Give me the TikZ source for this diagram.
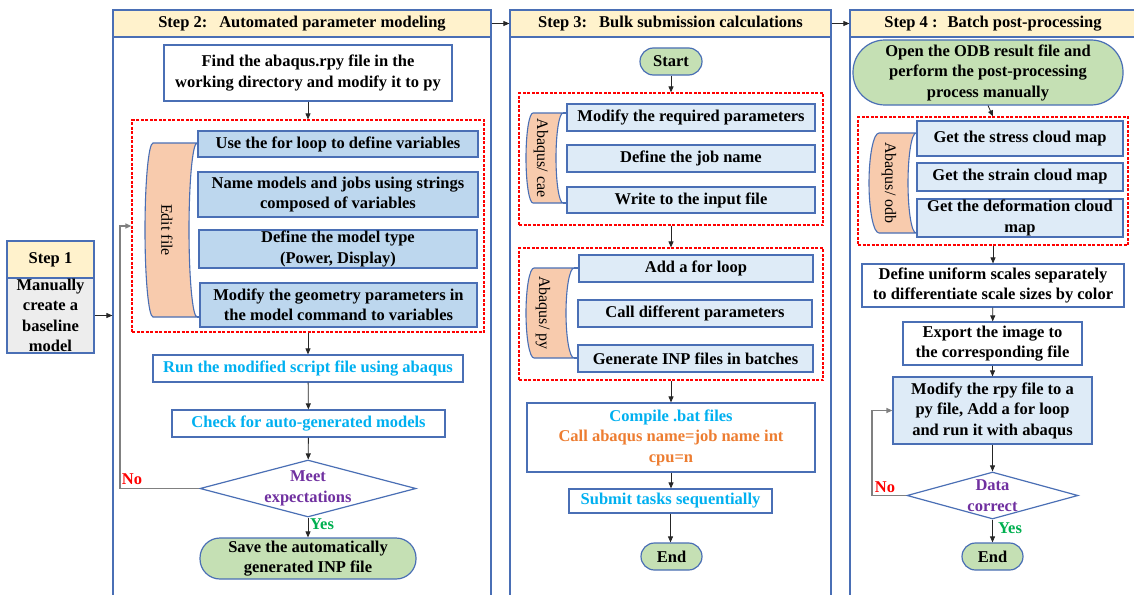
\documentclass[tikz,border=0pt]{standalone}
\usepackage{fontspec}
\setmainfont{Liberation Serif}
\usetikzlibrary{shapes.geometric,arrows.meta}
\definecolor{pblue}{HTML}{4A6FB5}
\definecolor{hdrc}{HTML}{FFF2CC}
\definecolor{dkb}{HTML}{BDD7EE}
\definecolor{ltb}{HTML}{DEEBF7}
\definecolor{grn}{HTML}{C5E0B4}
\definecolor{peach}{HTML}{F8CBAD}
\definecolor{gryc}{HTML}{EDEDED}
\definecolor{cyantx}{HTML}{00B0F0}
\definecolor{orgtx}{HTML}{ED7D31}
\definecolor{purtx}{HTML}{7030A0}
\definecolor{yestx}{HTML}{00B050}
\definecolor{linec}{HTML}{262626}
\definecolor{loopc}{HTML}{808080}
\begin{document}
\begin{tikzpicture}[x=1pt,y=-1pt,
  every node/.style={font=\fontsize{16.5}{20.5}\selectfont\bfseries, align=center, inner sep=0pt},
  sz/.style 2 args={minimum width=#1pt, minimum height=#2pt},
  panel/.style={draw=pblue, line width=1.2pt, rectangle, fill=white},
  hdr/.style={draw=pblue, line width=1.2pt, rectangle, fill=hdrc},
  wbox/.style={draw=pblue, line width=1.2pt, rectangle, fill=white},
  dbox/.style={draw=pblue, line width=1.2pt, rectangle, fill=dkb},
  lbox/.style={draw=pblue, line width=1.2pt, rectangle, fill=ltb},
  gbox/.style={draw=pblue, line width=1.2pt, rectangle, fill=gryc},
  term/.style={draw=pblue, line width=1.2pt, rectangle, fill=grn, rounded corners=#1pt},
  dgroup/.style={draw=red, line width=1.2pt, dash pattern=on 3pt off 1.5pt, rectangle},
  dia/.style={draw=pblue, line width=1.2pt, diamond, fill=white},
  scrl/.style={draw=pblue, line width=1.1pt, fill=peach},
  scrtx/.style={font=\fontsize{16}{18}\selectfont, rotate=-90},
  arr/.style={draw=linec, line width=0.8pt, -{Triangle[length=6pt,width=5pt]}},
  loopline/.style={draw=loopc, line width=1.2pt, -{Triangle[length=6pt,width=5pt]}},
  ctx/.style={text=cyantx},
  ptx/.style={text=purtx},
  yes/.style={text=yestx},
  nop/.style={text=red}
]
\useasboundingbox (0,0) rectangle (1134,594);
\clip (0,0) rectangle (1134,594);

% ---------------- Step 1 ----------------
\node[hdr, sz={87}{37}] (s1h) at (50.5,259.5) {Step 1};
\node[gbox, sz={87}{75}] (s1b) at (50.5,315.5) {\fontsize{16.5}{19.5}\selectfont Manually\\create a\\baseline\\model};

% ---------------- Step 2 ----------------
\node[panel, sz={378}{600}] (p2) at (302,310) {};
\node[hdr, sz={378}{27}] (p2h) at (302,23.5) {Step 2:\hspace{12pt}Automated parameter modeling};
\node[wbox, sz={288}{56}] (find) at (308,73) {Find the abaqus.rpy file in the\\working directory and modify it to py};
\node[dgroup, sz={352}{212}] (dash2) at (308,226) {};
\node[dbox, sz={280}{26}] (b1) at (338,144) {Use the for loop to define variables};
\node[dbox, sz={280}{45}] (b2) at (338,194.5) {Name models and jobs using strings\\composed of variables};
\node[dbox, sz={278}{38}] (b3) at (338,249) {Define the model type\\(Power, Display)};
\node[dbox, sz={277}{44}] (b4) at (338.5,305) {Modify the geometry parameters in\\the model command to variables};
\draw[scrl] (153,143) -- (197,143) arc[start angle=90, end angle=270, x radius=8pt, y radius=87pt]
  -- (153,317) arc[start angle=270, end angle=90, x radius=8pt, y radius=87pt] -- cycle;
\node[scrtx] (edit) at (167,230) {Edit file};
\draw[draw=pblue, line width=1.1pt] (197,143) -- (b1.west |- 0,143);
\draw[draw=pblue, line width=1.1pt] (197,317) -- (b4.west |- 0,317);
\node[wbox, sz={310}{27}, ctx] (run) at (308,368.5) {Run the modified script file using abaqus};
\node[wbox, sz={273}{27}, ctx] (check) at (308.5,423.5) {Check for auto-generated models};
\node[dia, sz={216}{57}, label={[ptx, align=center]center:{Meet\\expectations}}] (meet) at (308,488.5) {};
\node[term=20, sz={216}{41}] (save) at (308,558.5) {Save the automatically\\generated INP file};
\node[yes] (yes2) at (322,524) {Yes};
\node[nop] (no2) at (132,479) {No};
\coordinate (nl2) at (120,488.5);

\draw[arr] (s1b.east) -- (s1b.east -| p2.west);
\draw[arr] (find) -- (dash2);
\draw[arr] (dash2) -- (run);
\draw[arr] (run) -- (check);
\draw[arr] (check) -- (meet);
\draw[arr] (meet) -- (save);
\draw[loopline] (meet.west) -- (nl2) |- (dash2.west);

% ---------------- Step 3 ----------------
\node[panel, sz={321}{600}] (p3) at (670.5,310) {};
\node[hdr, sz={321}{27}] (p3h) at (670.5,23.5) {Step 3:\hspace{12pt}Bulk submission calculations};
\node[term=13.5, sz={62}{27}] (start) at (671,61.5) {Start};
\node[dgroup, sz={304}{132}] (dash3a) at (671,159) {};
\node[lbox, sz={248}{27}] (c1) at (691,117.5) {Modify the required parameters};
\node[lbox, sz={248}{27}] (c2) at (691,158.5) {Define the job name};
\node[lbox, sz={248}{26}] (c3) at (691,200) {Write to the input file};
\draw[scrl] (533,113) -- (563,113) arc[start angle=90, end angle=270, x radius=7pt, y radius=45pt]
  -- (533,203) arc[start angle=270, end angle=90, x radius=7pt, y radius=45pt] -- cycle;
\node[scrtx] (cae) at (541,158) {Abaqus/ cae};
\draw[draw=pblue, line width=1.1pt] (563,113) -- (c1.west |- 0,113);
\draw[draw=pblue, line width=1.1pt] (563,203) -- (c3.west |- 0,203);
\node[dgroup, sz={304}{132}] (dash3b) at (671,314) {};
\node[lbox, sz={234}{27}] (d1) at (696,268.5) {Add a for loop};
\node[lbox, sz={234}{27}] (d2) at (695,313.5) {Call different parameters};
\node[lbox, sz={235}{27}] (d3) at (695.5,358.5) {Generate INP files in batches};
\draw[scrl] (534,268) -- (574,268) arc[start angle=90, end angle=270, x radius=8pt, y radius=45pt]
  -- (534,358) arc[start angle=270, end angle=90, x radius=8pt, y radius=45pt] -- cycle;
\node[scrtx] (py) at (543,313) {Abaqus/ py};
\draw[draw=pblue, line width=1.1pt] (574,268) -- (d1.west |- 0,268);
\draw[draw=pblue, line width=1.1pt] (574,358) -- (d3.west |- 0,358);
\node[wbox, sz={288}{69}] (comp) at (671,437.5) {{\color{cyantx}Compile .bat files}\\{\color{orgtx}Call abaqus name=job name int}\\{\color{orgtx}cpu=n}};
\node[wbox, sz={203}{24}, ctx] (submit) at (670.5,501) {Submit tasks sequentially};
\node[term=13.5, sz={61}{27}] (end3) at (671.5,556.5) {End};

\draw[arr] (p2h.east) -- (p3h.west);
\draw[arr] (start) -- (dash3a);
\draw[arr] (dash3a) -- (dash3b);
\draw[arr] (dash3b) -- (comp);
\draw[arr] (comp.south) -- (comp.south |- submit.north);
\draw[arr] (submit.south) -- (submit.south |- end3.north);

% ---------------- Step 4 ----------------
\node[panel, sz={286}{600}] (p4) at (993,310) {};
\node[hdr, sz={286}{27}] (p4h) at (993,23.5) {Step 4 :\hspace{10pt}Batch post-processing};
\node[term=32, sz={270}{65}] (odb) at (988,72.5) {Open the ODB result file and\\perform the post-processing\\process manually};
\node[dgroup, sz={270}{128}] (dash4) at (993,181) {};
\node[lbox, sz={206}{35}] (e1) at (1020,138.5) {Get the stress cloud map};
\node[lbox, sz={206}{28}] (e2) at (1020,177) {Get the strain cloud map};
\node[lbox, sz={206}{38}] (e3) at (1020,218) {Get the deformation cloud\\map};
\draw[scrl] (879,133) -- (916,133) arc[start angle=90, end angle=270, x radius=8pt, y radius=50pt]
  -- (879,233) arc[start angle=270, end angle=90, x radius=10pt, y radius=50pt] -- cycle;
\node[scrtx] (odbt) at (889,183) {Abaqus/ odb};
\draw[draw=pblue, line width=1.1pt] (916,133) -- (e1.west |- 0,133);
\draw[draw=pblue, line width=1.1pt] (916,233) -- (e3.west |- 0,233);
\node[wbox, sz={262}{43}] (define) at (993,285.5) {Define uniform scales separately\\to differentiate scale sizes by color};
\node[wbox, sz={179}{43}] (export) at (992.5,343.5) {Export the image to\\the corresponding file};
\node[lbox, sz={199}{67}] (modrpy) at (992.5,410.5) {Modify the rpy file to a\\py file, Add a for loop\\and run it with abaqus};
\node[dia, sz={171}{47}, label={[ptx, align=center]center:{Data\\correct}}] (data) at (992.5,495.5) {};
\node[term=13.5, sz={61}{27}] (end4) at (992.5,556.5) {End};
\node[yes] (yes4) at (1010,528) {Yes};
\node[nop] (no4) at (885,487) {No};
\coordinate (nl4) at (872,495.5);

\draw[arr] (p3h.east) -- (p4h.west);
\draw[arr] (odb.south) -- (dash4.north);
\draw[arr] (dash4) -- (define);
\draw[arr] (define) -- (export);
\draw[arr] (export) -- (modrpy);
\draw[arr] (modrpy) -- (data);
\draw[arr] (data) -- (end4);
\draw[loopline] (data.west) -- (nl4) |- (modrpy.west);
\end{tikzpicture}
\end{document}
